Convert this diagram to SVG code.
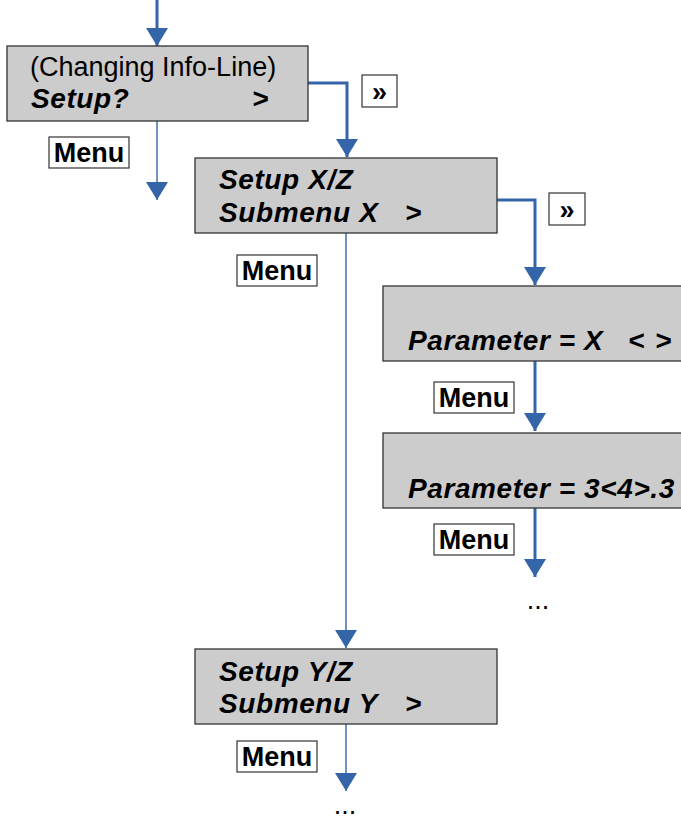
<svg xmlns="http://www.w3.org/2000/svg" width="681" height="821" viewBox="0 0 681 821">
<style>
.box{fill:#cccccc;stroke:#333333;stroke-width:1.3}
.btn{fill:#ffffff;stroke:#333333;stroke-width:1.2}
.t{font-family:"Liberation Sans",Arial,sans-serif;font-size:27px;fill:#000}
.bi{font-weight:bold;font-style:italic;font-size:28px;letter-spacing:0.6px}
.b{font-weight:bold}
.thick{fill:none;stroke:#3465A8;stroke-width:3}
.thin{fill:none;stroke:#3465A8;stroke-width:1.4}
</style>
<defs>
<marker id="ah" viewBox="0 0 18 22" refX="18" refY="11" markerWidth="18" markerHeight="22" markerUnits="userSpaceOnUse" orient="auto">
<path d="M0,0 L18,11 L0,22 z" fill="#3465A8"/>
</marker>
</defs>
<rect width="681" height="821" fill="#ffffff"/>

<g id="connectors">
<path class="thick" d="M157,0 V46" marker-end="url(#ah)"/>
<path class="thick" d="M308,83 H347 V157" marker-end="url(#ah)"/>
<path class="thin" d="M157,121 V200" marker-end="url(#ah)"/>
<path class="thick" d="M497,200 H535 V285" marker-end="url(#ah)"/>
<path class="thin" d="M346,233 V648" marker-end="url(#ah)"/>
<path class="thick" d="M535,361 V431" marker-end="url(#ah)"/>
<path class="thick" d="M535,508 V577" marker-end="url(#ah)"/>
<path class="thin" d="M346,724 V791" marker-end="url(#ah)"/>
</g>

<g id="node-setup">
<rect class="box" x="7" y="46" width="301" height="75"/>
<text class="t" x="30" y="76">(Changing Info-Line)</text>
<text class="t bi" y="108"><tspan x="31">Setup?</tspan><tspan x="252">&gt;</tspan></text>
</g>

<g id="node-setupxz">
<rect class="box" x="195" y="158" width="302" height="75"/>
<text class="t bi" x="219" y="189">Setup X/Z</text>
<text class="t bi" y="222"><tspan x="219">Submenu X</tspan><tspan x="405">&gt;</tspan></text>
</g>

<g id="node-paramx">
<rect class="box" x="383" y="286" width="310" height="75"/>
<text class="t bi" y="350"><tspan x="408">Parameter = X</tspan><tspan x="628">&lt;</tspan><tspan x="655">&gt;</tspan></text>
</g>

<g id="node-param34">
<rect class="box" x="383" y="433" width="310" height="75"/>
<text class="t bi" x="408" y="498">Parameter = 3&lt;4&gt;.3</text>
</g>

<g id="node-setupyz">
<rect class="box" x="195" y="649" width="302" height="75"/>
<text class="t bi" x="219" y="681">Setup Y/Z</text>
<text class="t bi" y="713"><tspan x="219">Submenu Y</tspan><tspan x="405">&gt;</tspan></text>
</g>

<g id="labels">
<rect class="btn" x="362" y="75" width="35" height="32"/>
<text class="t b" x="379.5" y="101" text-anchor="middle">»</text>
<rect class="btn" x="549" y="193" width="36" height="32"/>
<text class="t b" x="567" y="219" text-anchor="middle">»</text>
<rect class="btn" x="49" y="137" width="80" height="31"/>
<text class="t b" x="89" y="162" text-anchor="middle">Menu</text>
<rect class="btn" x="237" y="255" width="80" height="31"/>
<text class="t b" x="277" y="280" text-anchor="middle">Menu</text>
<rect class="btn" x="434" y="382" width="80" height="31"/>
<text class="t b" x="474" y="407" text-anchor="middle">Menu</text>
<rect class="btn" x="434" y="524" width="80" height="31"/>
<text class="t b" x="474" y="549" text-anchor="middle">Menu</text>
<rect class="btn" x="237" y="741" width="80" height="31"/>
<text class="t b" x="277" y="766" text-anchor="middle">Menu</text>
<text class="t" x="538" y="609" text-anchor="middle">...</text>
<text class="t" x="345" y="814" text-anchor="middle">...</text>
</g>
</svg>
